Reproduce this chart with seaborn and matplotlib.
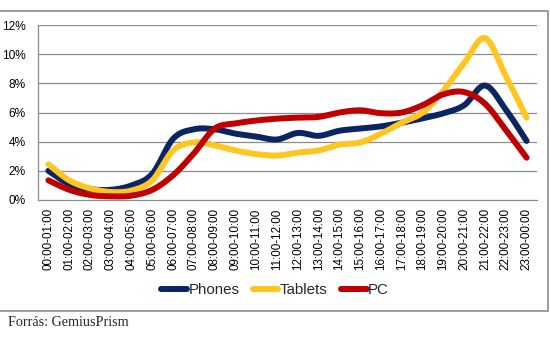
import numpy as np
import pandas as pd
import matplotlib
matplotlib.use("Agg")
import matplotlib.pyplot as plt
from matplotlib.patches import Rectangle
import seaborn as sns

hours = ["00:00-01:00", "01:00-02:00", "02:00-03:00", "03:00-04:00", "04:00-05:00",
         "05:00-06:00", "06:00-07:00", "07:00-08:00", "08:00-09:00", "09:00-10:00",
         "10:00-11:00", "11:00-12:00", "12:00-13:00", "13:00-14:00", "14:00-15:00",
         "15:00-16:00", "16:00-17:00", "17:00-18:00", "18:00-19:00", "19:00-20:00",
         "20:00-21:00", "21:00-22:00", "22:00-23:00", "23:00-00:00"]

phones = [2.0, 1.1, 0.75, 0.7, 1.0, 1.8, 4.2, 4.85, 4.85, 4.55, 4.35, 4.15,
          4.6, 4.4, 4.75, 4.9, 5.05, 5.3, 5.6, 5.95, 6.5, 7.85, 6.2, 4.05]
tablets = [2.45, 1.35, 0.8, 0.55, 0.65, 1.35, 3.4, 3.95, 3.75, 3.4, 3.15, 3.05,
           3.25, 3.4, 3.8, 3.95, 4.55, 5.3, 6.0, 7.5, 9.4, 11.1, 8.5, 5.65]
pc = [1.35, 0.7, 0.35, 0.25, 0.3, 0.7, 1.7, 3.2, 4.9, 5.25, 5.45, 5.58,
      5.65, 5.7, 6.0, 6.15, 5.95, 6.0, 6.5, 7.25, 7.4, 6.6, 4.8, 2.9]

series = {"Phones": phones, "Tablets": tablets, "PC": pc}
palette = {"Phones": "#0B2463", "Tablets": "#FFC621", "PC": "#C00000"}


def smooth(ys, steps=24):
    """Catmull-Rom curve through the points, like a spreadsheet 'smoothed line'."""
    y = np.asarray(ys, dtype=float)
    x = np.arange(len(y), dtype=float)
    px = np.concatenate([[x[0]], x, [x[-1]]])
    py = np.concatenate([[y[0]], y, [y[-1]]])
    out_x, out_y = [], []
    for i in range(1, len(px) - 2):
        p0, p1, p2, p3 = (np.array([px[j], py[j]]) for j in (i - 1, i, i + 1, i + 2))
        c1 = p1 + (p2 - p0) / 6.0
        c2 = p2 - (p3 - p1) / 6.0
        t = np.linspace(0, 1, steps, endpoint=(i == len(px) - 3))[:, None]
        b = ((1 - t) ** 3) * p1 + 3 * ((1 - t) ** 2) * t * c1 + 3 * (1 - t) * t ** 2 * c2 + t ** 3 * p2
        out_x.extend(b[:, 0])
        out_y.extend(b[:, 1])
    return np.array(out_x), np.array(out_y)


sns.set_style("white")
plt.rcParams["font.family"] = ["Liberation Sans", "DejaVu Sans"]

fig = plt.figure(figsize=(5.5, 3.38), dpi=100)
ax = fig.add_axes([38 / 550, 1 - 200 / 338, (537 - 38) / 550, (200 - 25) / 338])

for name, vals in series.items():
    sx, sy = smooth(vals)
    curve = pd.DataFrame({"pos": sx, "share": sy})
    sns.lineplot(data=curve, x="pos", y="share", color=palette[name], linewidth=4.3,
                 sort=False, estimator=None, ax=ax, solid_capstyle="round", zorder=3)

grid_c = "#8C8C8C"
ax.set_xlim(-0.5, len(hours) - 0.5)
ax.set_ylim(0, 12)
ax.set_yticks(np.arange(0, 13, 2))
ax.set_yticklabels([f"{v}%" for v in range(0, 13, 2)])
for v in range(2, 13, 2):
    ax.axhline(v, color=grid_c, lw=0.9, zorder=0)
ax.set_xticks(np.arange(len(hours)))
ax.set_xticklabels(hours, rotation=90, fontsize=8.4)
ax.set_xticks(np.arange(-0.5, len(hours)), minor=True)
ax.tick_params(axis="x", which="major", length=0, pad=6, colors="black")
ax.tick_params(axis="x", which="minor", length=4, color=grid_c, width=0.9, direction="out")
ax.tick_params(axis="y", length=3, color=grid_c, width=0.9, pad=6, labelsize=8.6)
for lab in ax.get_yticklabels():
    lab.set_color("black")
ax.set_xlabel("")
ax.set_ylabel("")
for side in ("top", "right"):
    ax.spines[side].set_visible(False)
for side in ("left", "bottom"):
    ax.spines[side].set_color(grid_c)
    ax.spines[side].set_linewidth(0.9)

handles = [plt.Line2D([], [], color=palette[k], lw=4.3, solid_capstyle="round") for k in series]
fig.legend(handles, list(series), loc="center", bbox_to_anchor=(275 / 550, 1 - 290 / 338),
           ncol=3, frameon=False, fontsize=10.8, handlelength=1.7, handletextpad=0.1,
           columnspacing=0.9)

fig.patches.append(Rectangle((-0.01, 1 - 311 / 338), 548 / 550 + 0.01, 300 / 338,
                             transform=fig.transFigure, fill=False, edgecolor="#8C8C8C", lw=1.2))

fig.text(8 / 550, 1 - 322 / 338, "Forrás: GemiusPrism", fontsize=10.2,
         family=["Liberation Serif", "DejaVu Serif"], va="center", ha="left")

fig.savefig("out.png", dpi=100)
